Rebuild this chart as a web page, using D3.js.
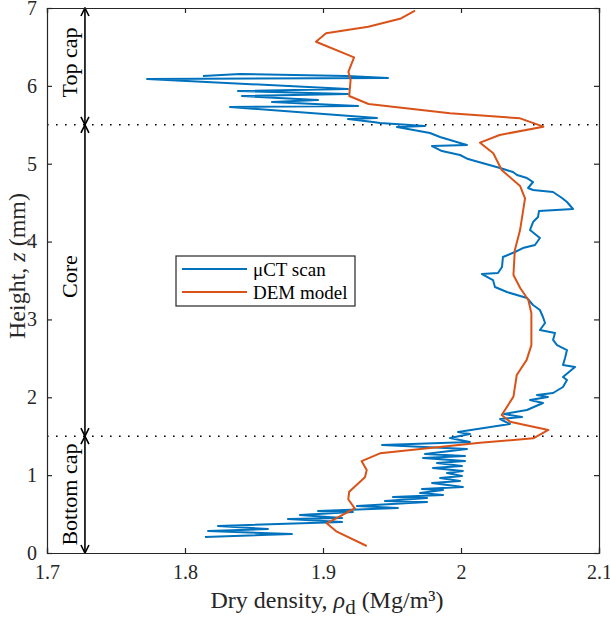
<!DOCTYPE html>
<html>
<head>
<meta charset="utf-8">
<script src="https://cdn.jsdelivr.net/npm/d3@7"></script>
<style>
  body { margin: 0; background: #fff; }
  svg text { font-family: "Liberation Serif", "Times New Roman", serif !important; }
</style>
</head>
<body>
<div id="container"></div>
<script>
/* CONSTANTS AND GLOBALS */
const width = 610,
      height = 622,
      margin = {top: 8, bottom: 69, left: 47, right: 11};

// uCT scan profile: [dry density, height]
const uctDensity = [1.8145,1.8775,1.8167,1.8601,1.8239,1.9138,1.8746,1.9138,1.8833,1.9217,1.8964,1.9543,1.9246,1.9754,1.9449,1.9754,1.9507,1.9870,1.9703,1.9870,1.9717,2.0014,1.9790,1.9993,1.9848,2.0007,1.9899,2.0014,1.9797,2.0007,1.9826,2.0029,1.9725,2.0029,1.9739,2.0043,1.9428,2.0065,1.9920,2.0065,1.9978,2.0355,2.0283,2.0442,2.0312,2.0478,2.0594,2.0500,2.0630,2.0551,2.0667,2.0739,2.0768,2.0739,2.0826,2.0739,2.0754,2.0768,2.0696,2.0667,2.0681,2.0572,2.0609,2.0594,2.0572,2.0522,2.0478,2.0333,2.0246,2.0232,2.0152,2.0268,2.0297,2.0304,2.0391,2.0449,2.0536,2.0572,2.0500,2.0522,2.0558,2.0565,2.0812,2.0768,2.0732,2.0667,2.0522,2.0486,2.0522,2.0478,2.0406,2.0377,2.0283,2.0051,1.9993,1.9862,1.9790,2.0043,1.9993,1.9848,1.9775,1.9536,1.9739,1.9413,1.9362,1.9181,1.9391,1.8326,1.9254,1.8630,1.8964,1.8413,1.9181,1.8384,1.9181,1.7725,1.9471,1.9174,1.8399,1.8130];
const uctHeight = [0.205,0.244,0.283,0.308,0.347,0.398,0.437,0.450,0.488,0.527,0.539,0.578,0.604,0.655,0.668,0.706,0.719,0.745,0.771,0.809,0.822,0.848,0.899,0.925,0.963,0.989,1.027,1.053,1.092,1.117,1.156,1.182,1.220,1.246,1.272,1.336,1.387,1.426,1.477,1.528,1.554,1.657,1.721,1.747,1.785,1.837,1.927,1.965,2.004,2.029,2.055,2.132,2.222,2.260,2.389,2.415,2.504,2.607,2.671,2.736,2.826,2.864,2.954,3.031,3.121,3.185,3.275,3.352,3.416,3.506,3.583,3.596,3.673,3.802,3.866,3.917,3.956,4.046,4.148,4.251,4.315,4.392,4.418,4.508,4.560,4.637,4.662,4.688,4.765,4.816,4.855,4.893,4.945,5.060,5.112,5.163,5.227,5.240,5.266,5.343,5.394,5.471,5.484,5.523,5.536,5.574,5.587,5.728,5.741,5.792,5.818,5.869,5.895,5.934,5.959,6.088,6.101,6.126,6.152,6.126];

// DEM model profile
const demDensity = [1.9317,1.9100,1.9027,1.9230,1.9183,1.9190,1.9304,1.9317,1.9280,1.9413,2.0138,2.0524,2.0633,2.0355,2.0295,2.0380,2.0404,2.0476,2.0510,2.0510,2.0488,2.0430,2.0380,2.0390,2.0428,2.0464,2.0428,2.0295,2.0234,2.0138,2.0280,2.0597,2.0428,1.9920,1.9330,1.9190,1.9200,1.9184,1.9225,1.8949,1.9022,1.9328,1.9565,1.9667];
const demHeight = [0.090,0.274,0.381,0.574,0.690,0.787,0.972,1.066,1.180,1.280,1.417,1.473,1.580,1.687,1.772,2.008,2.286,2.480,2.670,3.080,3.250,3.400,3.570,3.890,4.148,4.556,4.714,4.919,5.134,5.270,5.369,5.476,5.583,5.647,5.767,5.870,6.075,6.180,6.366,6.567,6.675,6.760,6.866,6.965];

const xTicks = [1.7, 1.8, 1.9, 2.0, 2.1];
const yTicks = [0, 1, 2, 3, 4, 5, 6, 7];

// zones marked with arrows on the left
const zoneNames = ["Bottom cap", "Core", "Top cap"];
const zoneLow = [0, 1.5, 5.5];
const zoneHigh = [1.5, 5.5, 7];
const zoneLabelAt = [0.75, 3.55, 6.3];
const boundaries = [1.5, 5.5];

const seriesNames = ["\u03BCCT scan", "DEM model"];
const seriesColors = ["#0072BD", "#D95319"];

/* SCALES */
const xScale = d3.scaleLinear().domain([1.7, 2.1]).range([margin.left, width - margin.right]);
const yScale = d3.scaleLinear().domain([0, 7]).range([height - margin.bottom, margin.top]);

const svg = d3.select("#container").append("svg")
  .attr("width", width)
  .attr("height", height);

// dotted zone boundaries
svg.selectAll("line.bound")
  .data(boundaries)
  .join("line")
  .attr("class", "bound")
  .attr("x1", xScale(1.7)).attr("x2", xScale(2.1))
  .attr("y1", d => yScale(d)).attr("y2", d => yScale(d))
  .attr("stroke", "#000")
  .attr("stroke-width", 1.6)
  .attr("stroke-dasharray", "1.6,7.4");

/* LINES */
const line = d3.line().x(d => xScale(d[0])).y(d => yScale(d[1]));
const uct = uctDensity.map((d, i) => [d, uctHeight[i]]);
const dem = demDensity.map((d, i) => [d, demHeight[i]]);

svg.append("path").datum(uct)
  .attr("d", line).attr("fill", "none")
  .attr("stroke", seriesColors[0]).attr("stroke-width", 2).attr("stroke-linejoin", "round");
svg.append("path").datum(dem)
  .attr("d", line).attr("fill", "none")
  .attr("stroke", seriesColors[1]).attr("stroke-width", 2).attr("stroke-linejoin", "round");

/* ZONE ARROWS */
const arrowX = xScale(1.7275);
svg.append("defs").append("marker")
  .attr("id", "head")
  .attr("viewBox", "0 0 10 10")
  .attr("refX", 9).attr("refY", 5)
  .attr("markerWidth", 10).attr("markerHeight", 10)
  .attr("markerUnits", "userSpaceOnUse")
  .attr("orient", "auto-start-reverse")
  .append("path")
  .attr("d", "M1,1 L9,5 L1,9")
  .attr("fill", "none").attr("stroke", "#000").attr("stroke-width", 1.6);

zoneNames.forEach((name, i) => {
  svg.append("line")
    .attr("x1", arrowX).attr("x2", arrowX)
    .attr("y1", yScale(zoneLow[i])).attr("y2", yScale(zoneHigh[i]))
    .attr("stroke", "#000").attr("stroke-width", 1.6)
    .attr("marker-start", "url(#head)")
    .attr("marker-end", "url(#head)");
  svg.append("text")
    .attr("transform", `translate(${arrowX - 8},${yScale(zoneLabelAt[i])}) rotate(-90)`)
    .attr("text-anchor", "middle")
    .attr("font-size", 22)
    .style("fill", "#000")
    .text(name);
});

/* AXES */
const axisColor = "#262626";
const xAxis = d3.axisBottom(xScale).tickValues(xTicks).tickSize(-5).tickPadding(12).tickFormat(d3.format("~g"));
const yAxis = d3.axisLeft(yScale).tickValues(yTicks).tickSize(-5).tickPadding(10).tickFormat(d3.format("~g"));

const gx = svg.append("g").attr("transform", `translate(0,${yScale(0)})`).call(xAxis);
const gy = svg.append("g").attr("transform", `translate(${xScale(1.7)},0)`).call(yAxis);
svg.append("g").attr("transform", `translate(0,${yScale(7)})`)
  .call(d3.axisTop(xScale).tickValues(xTicks).tickSize(-5).tickFormat(""));
svg.append("g").attr("transform", `translate(${xScale(2.1)},0)`)
  .call(d3.axisRight(yScale).tickValues(yTicks).tickSize(-5).tickFormat(""));

svg.selectAll(".domain").attr("stroke", axisColor).attr("stroke-width", 1.2);
svg.selectAll(".tick line").attr("stroke", axisColor).attr("stroke-width", 1.2);
svg.selectAll(".tick text").attr("font-size", 20).style("fill", axisColor);
gx.selectAll(".tick text").attr("dy", "0.71em");

// axis titles
const xt = svg.append("text")
  .attr("x", (xScale(1.7) + xScale(2.1)) / 2 + 4)
  .attr("y", 608)
  .attr("text-anchor", "middle")
  .attr("font-size", 24)
  .style("fill", axisColor);
xt.append("tspan").text("Dry density, ");
xt.append("tspan").attr("font-style", "italic").text("\u03C1");
xt.append("tspan").attr("dy", 6).attr("font-size", 21).text("d");
xt.append("tspan").attr("dy", -6).text(" (Mg/m\u00B3)");

const yt = svg.append("text")
  .attr("transform", `translate(25,266) rotate(-90)`)
  .attr("text-anchor", "middle")
  .attr("font-size", 24)
  .style("fill", axisColor);
yt.append("tspan").text("Height, ");
yt.append("tspan").attr("font-style", "italic").text("z");
yt.append("tspan").text(" (mm)");

/* LEGEND */
const legend = svg.append("g").attr("transform", "translate(176,256)");
legend.append("rect")
  .attr("width", 179).attr("height", 50)
  .attr("fill", "#fff").attr("stroke", axisColor).attr("stroke-width", 1.2);
seriesNames.forEach((name, i) => {
  const ly = 13 + i * 23;
  legend.append("line")
    .attr("x1", 6).attr("x2", 71).attr("y1", ly).attr("y2", ly)
    .attr("stroke", seriesColors[i]).attr("stroke-width", 2);
  legend.append("text")
    .attr("x", 77).attr("y", ly).attr("dy", "0.35em")
    .attr("font-size", 19)
    .style("fill", "#000")
    .text(name);
});
</script>
</body>
</html>
